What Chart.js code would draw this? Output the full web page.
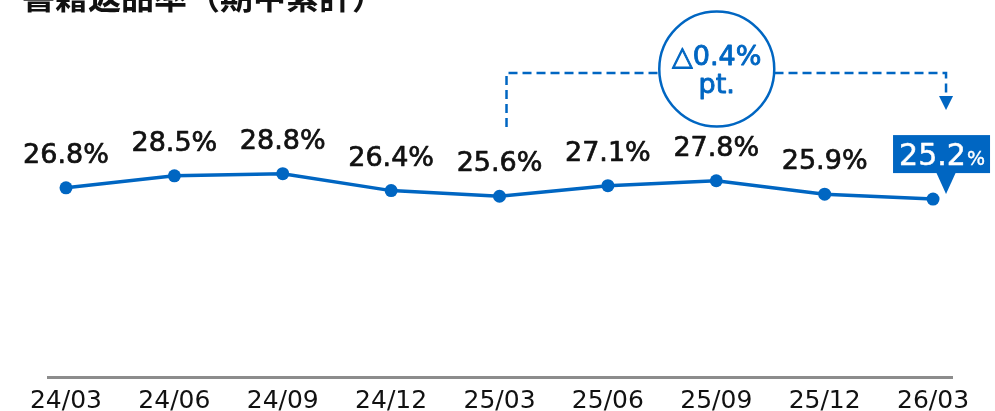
<!DOCTYPE html>
<html>
<head>
<meta charset="utf-8">
<script src="https://cdn.jsdelivr.net/npm/chart.js@4.4.1/dist/chart.umd.min.js"></script>
<style>
  html, body { margin: 0; padding: 0; background: #fff; overflow: hidden; }
  #wrap { position: relative; width: 995px; height: 411px; }
  #c { position: absolute; left: 0; top: 0; }
  #title {
    position: absolute; left: 22px; top: -21px;
    font: bold 33px/33px 'Noto Sans CJK JP', sans-serif;
    color: #111; white-space: nowrap;
  }
</style>
</head>
<body>
<div id="wrap">
  <canvas id="c" width="995" height="411"></canvas>
  <div id="title">書籍返品率（期中累計）</div>
</div>
<script>
// ── データ ──
const periods = ['24/03', '24/06', '24/09', '24/12', '25/03', '25/06', '25/09', '25/12', '26/03'];
const returnRate = [26.8, 28.5, 28.8, 26.4, 25.6, 27.1, 27.8, 25.9, 25.2];
const changeText = ['△0.4%', 'pt.'];
const changeFrom = 4;  // 25/03
const changeTo = 8;    // 26/03

const BLUE = '#0066c2';
const LABEL_FONT = "27px 'DejaVu Sans', sans-serif";

// 少し太めに見せる (medium 相当)
function boldText(ctx, text, x, y, color, w) {
  ctx.fillStyle = color;
  ctx.strokeStyle = color;
  ctx.lineWidth = w;
  ctx.lineJoin = 'round';
  ctx.strokeText(text, x, y);
  ctx.fillText(text, x, y);
}

// 値ラベル + 最新値のボックス
const valueLabels = {
  id: 'valueLabels',
  afterDatasetsDraw(chart) {
    const { ctx } = chart;
    const pts = chart.getDatasetMeta(0).data;
    ctx.save();
    ctx.textAlign = 'center';
    ctx.textBaseline = 'middle';
    ctx.font = LABEL_FONT;
    pts.forEach((p, i) => {
      if (i === pts.length - 1) return;
      boldText(ctx, returnRate[i].toFixed(1) + '%', p.x, p.y - 32, '#111', 0.7);
    });

    // 最新値: 吹き出し
    const last = pts[pts.length - 1];
    const bx = last.x - 40, by = last.y - 64, bw = 97, bh = 38;
    const tipX = last.x + 13;
    ctx.fillStyle = BLUE;
    ctx.fillRect(bx, by, bw, bh);
    ctx.beginPath();
    ctx.moveTo(tipX - 10, by + bh - 1);
    ctx.lineTo(tipX + 10, by + bh - 1);
    ctx.lineTo(tipX, last.y - 5);
    ctx.closePath();
    ctx.fill();

    ctx.textAlign = 'left';
    ctx.textBaseline = 'alphabetic';
    const big = returnRate[returnRate.length - 1].toFixed(1);
    ctx.font = "30px 'DejaVu Sans', sans-serif";
    const w1 = ctx.measureText(big).width;
    ctx.font = "19px 'DejaVu Sans', sans-serif";
    const w2 = ctx.measureText('%').width;
    const sx = bx + (bw - w1 - w2) / 2;
    ctx.font = "30px 'DejaVu Sans', sans-serif";
    boldText(ctx, big, sx, by + 30, '#fff', 0.5);
    ctx.font = "19px 'DejaVu Sans', sans-serif";
    boldText(ctx, '%', sx + w1 + 1, by + 30, '#fff', 0.4);
    ctx.restore();
  }
};

// 前年同期比の点線ブラケット + 丸
const changeBracket = {
  id: 'changeBracket',
  afterDatasetsDraw(chart) {
    const { ctx } = chart;
    const xs = chart.scales.x;
    const x1 = xs.getPixelForValue(changeFrom) + 7;
    const x2 = xs.getPixelForValue(changeTo) + 13;
    const yTop = 73;
    ctx.save();
    ctx.strokeStyle = BLUE;
    ctx.lineWidth = 2.5;
    ctx.setLineDash([9, 5]);
    ctx.beginPath();
    ctx.moveTo(x1, 127);
    ctx.lineTo(x1, yTop);
    ctx.lineTo(x2, yTop);
    ctx.lineTo(x2, 97);
    ctx.stroke();
    ctx.setLineDash([]);
    ctx.fillStyle = BLUE;
    ctx.beginPath();
    ctx.moveTo(x2 - 7, 96);
    ctx.lineTo(x2 + 7, 96);
    ctx.lineTo(x2, 110);
    ctx.closePath();
    ctx.fill();

    const cx = xs.getPixelForValue(6) + 0.5, cy = 69, r = 57.5;
    ctx.beginPath();
    ctx.arc(cx, cy, r, 0, Math.PI * 2);
    ctx.fillStyle = '#fff';
    ctx.fill();
    ctx.lineWidth = 2.5;
    ctx.stroke();

    ctx.textAlign = 'center';
    ctx.textBaseline = 'middle';
    ctx.font = "27px 'DejaVu Sans', sans-serif";
    boldText(ctx, changeText[0], cx, 58, BLUE, 0.9);
    boldText(ctx, changeText[1], cx, 86, BLUE, 0.9);
    ctx.restore();
  }
};

new Chart(document.getElementById('c'), {
  type: 'line',
  data: {
    datasets: [{
      data: returnRate.map((v, i) => ({ x: i, y: v })),
      borderColor: BLUE,
      backgroundColor: BLUE,
      borderWidth: 3.5,
      pointRadius: 6.5,
      pointBorderWidth: 0,
      pointBackgroundColor: BLUE,
      tension: 0,
    }]
  },
  options: {
    responsive: false,
    animation: false,
    layout: { padding: { left: 48, right: 43, top: 24, bottom: -6 } },
    plugins: { legend: { display: false }, tooltip: { enabled: false } },
    scales: {
      x: {
        type: 'linear',
        min: -0.166,
        max: 8.175,
        afterBuildTicks(axis) { axis.ticks = periods.map((_, i) => ({ value: i })); },
        grid: { display: false },
        border: { display: true, color: '#8c8c8c', width: 3 },
        ticks: {
          autoSkip: false, maxRotation: 0, padding: 1,
          color: '#111',
          font: { family: "'DejaVu Sans', sans-serif", size: 25 },
          callback: (v) => periods[v],
        },
      },
      y: { display: false, min: 0, max: 50 },
    },
  },
  plugins: [changeBracket, valueLabels],
});
</script>
</body>
</html>
